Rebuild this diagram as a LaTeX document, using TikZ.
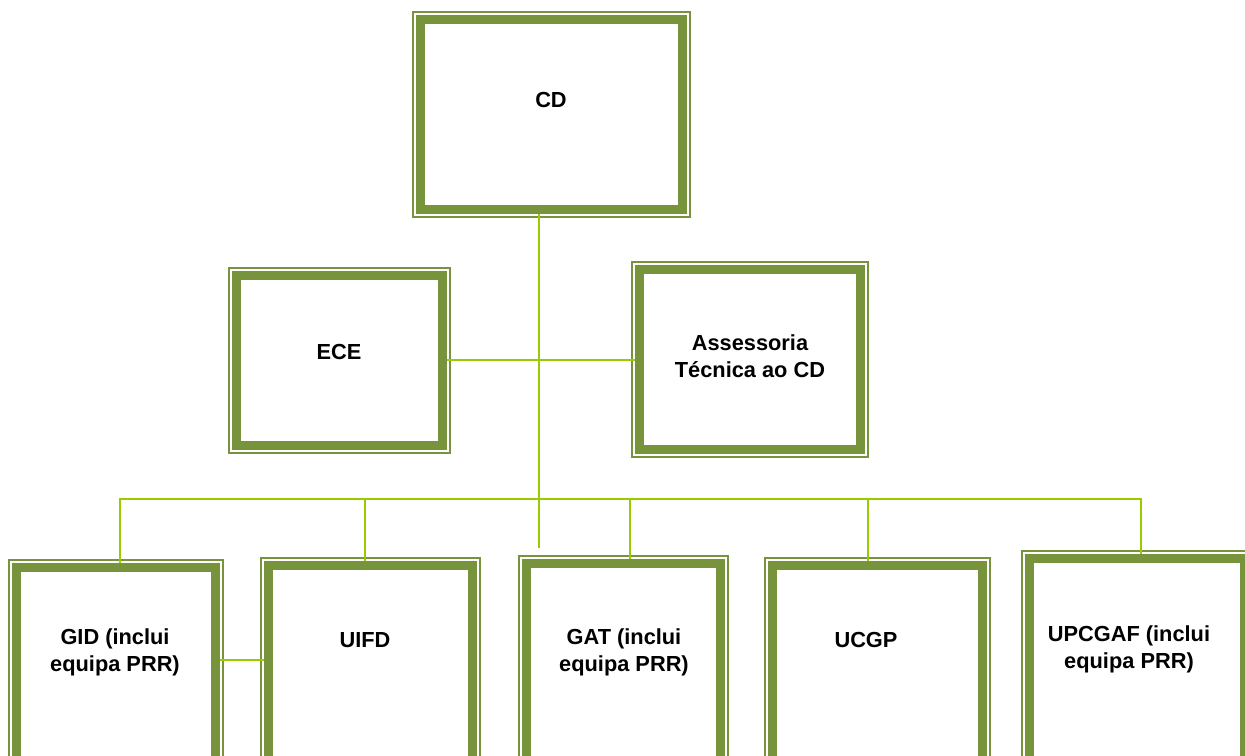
\documentclass[tikz,border=0pt]{standalone}
\usepackage{fontspec}
\setmainfont{Liberation Sans}
\definecolor{bandgreen}{RGB}{119,147,60}
\definecolor{linkgreen}{RGB}{153,204,0}

\begin{document}
\begin{tikzpicture}[font=\bfseries\fontsize{12.4}{15.3}\selectfont]
\tikzset{UnitStyle/.style = {rectangle, draw=bandgreen, line width=0.18cm, outer sep=0.09cm, inner sep=0pt},
  FrameStyle/.style = {draw=bandgreen, line width=0.03cm},
  LinkStyle/.style = {draw=linkgreen, line width=0.04cm},
  TextStyle/.style = {align=center, inner sep=1pt}}
\useasboundingbox (0,0) rectangle (24.9,15.12); \clip (0,0) rectangle (24.9,15.12);

\node[UnitStyle, minimum width=5.23cm, minimum height=3.79cm] (cd) at (11.03,12.83) {};
\node[UnitStyle, minimum width=4.11cm, minimum height=3.39cm] (ece) at (6.79,7.91) {};
\node[UnitStyle, minimum width=4.41cm, minimum height=3.59cm] (ass) at (15.00,7.93) {};
\node[UnitStyle, minimum width=3.97cm, minimum height=3.99cm] (gid) at (2.32,1.77) {};
\node[UnitStyle, minimum width=4.07cm, minimum height=4.03cm] (uifd) at (7.41,1.79) {};
\node[UnitStyle, minimum width=3.87cm, minimum height=4.07cm] (gat) at (12.47,1.81) {};
\node[UnitStyle, minimum width=4.19cm, minimum height=4.03cm] (ucgp) at (17.55,1.79) {};
\node[UnitStyle, minimum width=4.29cm, minimum height=4.17cm] (upc) at (22.74,1.86) {};
\foreach \n in {cd,ece,ass,gid,uifd,gat,ucgp,upc}
  \draw[FrameStyle] ([shift={(-0.065,-0.065)}]\n.south west) rectangle ([shift={(0.065,0.065)}]\n.north east);

\node[TextStyle] (cdtxt) at (11.02,13.12) {CD};
\node[TextStyle] (ecetxt) at (6.78,8.08) {ECE};
\node[TextStyle] (asstxt) at (15.00,8.00) {Assessoria\\Técnica ao CD};
\node[TextStyle] (gidtxt) at (2.30,2.08) {GID (inclui\\equipa PRR)};
\node[TextStyle] (uifdtxt) at (7.30,2.32) {UIFD};
\node[TextStyle] (gattxt) at (12.48,2.08) {GAT (inclui\\equipa PRR)};
\node[TextStyle] (ucgptxt) at (17.32,2.32) {UCGP};
\node[TextStyle] (upctxt) at (22.58,2.14) {UPCGAF (inclui\\equipa PRR)};

\coordinate (t) at (10.78,4.16);
\coordinate (b1) at (2.40,5.14); \coordinate (b2) at (7.30,5.14); \coordinate (b3) at (12.60,5.14);
\coordinate (b4) at (17.36,5.14); \coordinate (b5) at (22.82,5.14);
\draw[LinkStyle] (cd.south -| t) -- (t);
\draw[LinkStyle] (ece.east) -- (ece.east -| ass.west);
\draw[LinkStyle] (b1 |- gid.north) -- (b1) -- (b5) -- (b5 |- upc.north);
\draw[LinkStyle] (b2) -- (b2 |- uifd.north); \draw[LinkStyle] (b3) -- (b3 |- gat.north); \draw[LinkStyle] (b4) -- (b4 |- ucgp.north);
\draw[LinkStyle] ([yshift=0.15cm]gid.east) -- ([yshift=0.15cm]gid.east -| uifd.west);
\end{tikzpicture}
\end{document}
